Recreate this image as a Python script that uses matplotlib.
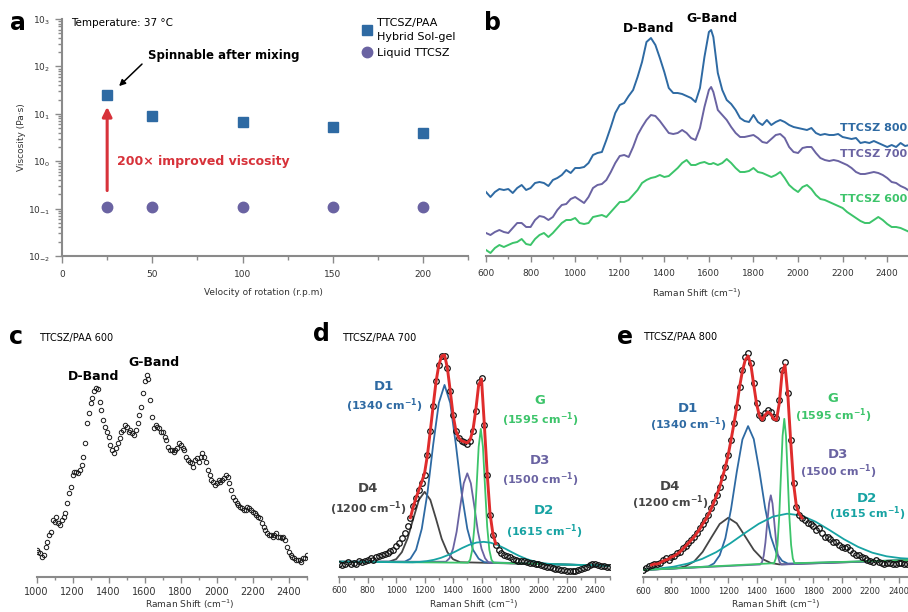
import numpy as np
import matplotlib.pyplot as plt
from matplotlib.lines import Line2D
from matplotlib.ticker import FixedLocator, LogLocator, NullFormatter

plt.rcParams['font.family'] = ['DejaVu Sans']

# ---------------- panel a: viscosity vs rotation speed
rpm = [25, 50, 100, 150, 200]
visc_hybrid = [25, 8.9, 6.7, 5.3, 3.9]
visc_liquid = [0.11, 0.11, 0.11, 0.11, 0.11]

# ---------------- panel b: Raman spectra, intensity (a.u., offset)
shift_b = list(range(600, 1601, 20)) + [1610] + list(range(1620, 2501, 20))
ttcsz_800 = [64, 59, 64, 67, 66, 67, 63, 68, 71, 66,
             68, 73, 74, 73, 70, 76, 78, 81, 86, 83,
             88, 88, 89, 93, 101, 103, 104, 116, 129, 143,
             151, 153, 160, 166, 179, 194, 214, 218, 211, 198,
             184, 168, 163, 163, 162, 160, 158, 154, 168, 199,
             224, 226,
             219, 183, 166, 156, 152, 146, 138, 135, 134, 141,
             134, 131, 136, 131, 134, 136, 134, 131, 129, 128,
             127, 126, 128, 123, 121, 122, 121, 121, 122, 119,
             118, 117, 118, 113, 114, 113, 115, 113, 111, 109,
             111, 109, 113, 110, 111]
ttcsz_700 = [23, 21, 24, 26, 24, 23, 28, 33, 33, 29,
             29, 36, 40, 39, 36, 39, 46, 51, 52, 57,
             59, 56, 53, 59, 68, 71, 72, 76, 84, 93,
             100, 101, 99, 109, 121, 129, 136, 141, 140, 135,
             129, 123, 122, 123, 126, 123, 118, 116, 128, 149,
             166, 169,
             164, 146, 141, 136, 129, 123, 119, 119, 120, 121,
             118, 114, 113, 117, 121, 122, 118, 109, 104, 103,
             108, 109, 109, 103, 98, 96, 95, 96, 95, 93,
             91, 88, 84, 82, 82, 83, 84, 83, 81, 78,
             74, 73, 70, 68, 65]
ttcsz_600 = [6, 3, 8, 11, 9, 11, 13, 14, 17, 12,
             11, 17, 21, 23, 19, 23, 28, 33, 36, 36,
             38, 33, 32, 33, 39, 40, 41, 39, 44, 49,
             54, 54, 56, 61, 66, 73, 76, 78, 79, 81,
             79, 80, 84, 88, 93, 96, 91, 91, 93, 94,
             92, 92,
             93, 91, 93, 97, 93, 88, 84, 84, 85, 88,
             84, 83, 81, 79, 81, 84, 78, 71, 67, 64,
             69, 71, 67, 61, 57, 56, 54, 52, 50, 48,
             44, 41, 38, 35, 33, 33, 36, 39, 36, 32,
             29, 29, 28, 26, 24]

# ---------------- panel c: TTCSZ/PAA 600 spectrum
shift_c = list(range(1000, 2501, 10))
spec_600 = [27, 25, 24, 20, 22, 30, 35, 42, 45, 57,
            55, 60, 54, 52, 57, 60, 64, 74, 84, 90,
            102, 105, 105, 104, 107, 112, 120, 134, 154, 164,
            174, 179, 186, 189, 188, 175, 167, 157, 150, 145,
            140, 132, 127, 124, 129, 134, 139, 145, 147, 152,
            150, 145, 147, 144, 142, 147, 154, 162, 170, 184,
            196, 202, 198, 177, 160, 149, 152, 150, 149, 145,
            145, 140, 137, 130, 127, 127, 125, 127, 129, 134,
            132, 129, 127, 120, 117, 115, 114, 110, 117, 119,
            115, 120, 124, 120, 115, 107, 102, 97, 95, 92,
            94, 97, 95, 97, 99, 102, 100, 94, 87, 80,
            77, 74, 72, 70, 69, 67, 67, 70, 69, 67,
            65, 64, 62, 60, 59, 54, 50, 47, 44, 42,
            42, 40, 42, 44, 40, 40, 39, 40, 37, 30,
            25, 22, 20, 19, 17, 17, 17, 15, 19, 19,
            22]

# ---------------- panels d / e: measured spectra and fit envelope
shift_de = list(range(600, 2501, 20))
spec_700 = [13, 12, 13, 15, 13, 14, 13, 16, 15, 16,
            17, 19, 17, 20, 21, 22, 23, 24, 26, 27,
            31, 34, 39, 44, 51, 59, 71, 79, 87, 94,
            102, 122, 146, 171, 196, 212, 221, 221, 209, 186,
            162, 146, 139, 136, 135, 133, 136, 146, 166, 195,
            199, 152, 102, 62, 42, 32, 27, 24, 22, 21,
            20, 18, 17, 16, 16, 16, 15, 14, 14, 13,
            13, 12, 11, 10, 10, 9, 8, 8, 7, 7,
            6, 6, 6, 6, 7, 8, 9, 10, 12, 13,
            13, 12, 11, 11, 10, 10]
spec_800 = [7, 9, 11, 12, 13, 13, 14, 17, 19, 17,
            20, 21, 24, 25, 29, 31, 34, 37, 40, 44,
            49, 53, 57, 62, 69, 75, 82, 90, 100, 110,
            122, 137, 154, 170, 190, 207, 220, 224, 214, 194,
            174, 162, 159, 164, 167, 165, 160, 159, 177, 207,
            215, 184, 137, 94, 70, 62, 59, 57, 54, 53,
            51, 47, 49, 44, 40, 40, 38, 35, 35, 32,
            30, 29, 30, 27, 24, 22, 22, 20, 19, 17,
            16, 15, 17, 15, 14, 13, 14, 14, 13, 13,
            14, 14, 13, 13, 13, 13]

fit_x_700 = list(range(1100, 1701, 20))
fit_700 = [59, 70, 79, 87, 95, 104, 122, 146, 171, 195,
           212, 221, 222, 209, 186, 162, 146, 139, 136, 135,
           134, 137, 147, 167, 192, 198, 152, 103, 63, 43,
           33]
fit_x_800 = list(range(660, 1721, 20))
fit_800 = [12, 13, 13, 14, 16, 17, 18, 20, 21, 23,
           25, 28, 31, 34, 37, 40, 44, 48, 53, 57,
           62, 68, 75, 82, 90, 100, 110, 122, 137, 153,
           170, 190, 206, 217, 221, 212, 192, 173, 161, 157,
           162, 165, 163, 158, 157, 174, 205, 212, 182, 136,
           94, 71, 63, 59]

# fitted peak components (baseline included)
d4_x_700 = [600, 950, 1000, 1040, 1080, 1120, 1160, 1200, 1240, 1280, 1320, 1360, 1400, 1450, 2500]
d4_700 = [15, 15, 17.6, 24.6, 38.3, 58, 77, 85, 77, 58, 38, 24.5, 17.5, 14.5, 11]
d1_x_700 = [600, 1060, 1100, 1140, 1180, 1220, 1260, 1300, 1340, 1380, 1420, 1460, 1500, 1540, 1580, 1620, 2500]
d1_700 = [15, 15, 18, 27, 48, 84, 132, 174, 192, 174, 132, 84, 48, 27, 18, 14.5, 11]
d3_x_700 = [600, 1350, 1375, 1400, 1425, 1450, 1475, 1500, 1525, 1550, 1575, 1600, 1625, 1650, 2500]
d3_700 = [15, 15, 18.5, 28, 45, 70, 93.5, 103.5, 93.5, 70, 45, 28, 18.5, 14, 11]
g_x_700 = [600, 1505, 1520, 1535, 1550, 1565, 1580, 1595, 1610, 1625, 1640, 1655, 1670, 1685, 2500]
g_700 = [15, 14, 17, 27, 50, 89, 130, 148, 130, 89, 50, 27, 17, 14, 11]
d2_x_700 = [600, 1115, 1165, 1215, 1265, 1315, 1365, 1415, 1465, 1515, 1565, 1615,
            1665, 1715, 1765, 1815, 1865, 1915, 1965, 2015, 2065, 2115, 2500]
d2_700 = [15, 14.4, 14.8, 15.6, 16.9, 18.9, 21.7, 25.1, 28.8, 32, 34.2, 34.9,
          34, 31.6, 28.2, 24.4, 20.8, 17.8, 15.5, 14, 13, 12.4, 11]

d4_x_800 = [600, 840, 900, 960, 1020, 1080, 1140, 1200, 1260, 1320, 1380, 1440, 1500, 1560, 2500]
d4_800 = [7, 8.8, 10.8, 15.5, 25.1, 39.2, 53, 59.2, 53.7, 40.5, 27.1, 18.1, 14, 12.6, 17]
d1_x_800 = [600, 1060, 1100, 1140, 1180, 1220, 1260, 1300, 1340, 1380, 1420, 1460, 1500, 1540, 1580, 1620, 2500]
d1_800 = [7, 10.5, 13.6, 21.7, 38.8, 67.9, 104.8, 137.5, 150.9, 137.9, 105.6, 69.1, 40.5, 23.8, 16.1, 13.4, 17]
d3_x_800 = [600, 1425, 1438, 1450, 1462, 1475, 1488, 1500, 1512, 1525, 1538, 1550, 1562, 1575, 2500]
d3_800 = [7, 12.5, 14.8, 21.2, 34.4, 54.2, 73.5, 81.7, 73.5, 54.2, 34.4, 21.2, 14.8, 12.5, 17]
g_x_800 = [600, 1523, 1535, 1547, 1559, 1571, 1583, 1595, 1607, 1619, 1631, 1643, 1655, 1667, 2500]
g_800 = [7, 13.8, 18.6, 32, 59.6, 100.8, 141, 158.2, 141, 100.8, 59.6, 32, 18.6, 13.8, 17]
d2_x_800 = [600, 715, 815, 915, 1015, 1115, 1215, 1315, 1415, 1515, 1615, 1715,
            1815, 1915, 2015, 2115, 2215, 2315, 2415, 2500]
d2_800 = [7.4, 8.6, 10.3, 13.4, 18, 24.8, 33.7, 43.7, 53.2, 60.4, 63.3, 61.5,
          55.3, 46.8, 37.8, 30.1, 24.3, 20.7, 18.8, 18.1]

c_blue = '#2e6aa3'
c_purple = '#6a63a2'
c_green = '#3cc46a'
c_teal = '#17a3a3'
c_gray = '#454545'
c_red = '#df2c2c'
c_axis = '#8a8a8a'
c_tick = '#333333'

W, H = 908, 612
fig = plt.figure(figsize=(W / 100, H / 100), dpi=100)


def fx(x):
    return x / W


def fy(y):
    return 1 - y / H


def axes_px(left, top, right, bottom):
    return fig.add_axes([left / W, 1 - bottom / H, (right - left) / W, (bottom - top) / H])


def raman_axis(ax, xmin, size, pad=3):
    for s in ['top', 'right', 'left']:
        ax.spines[s].set_visible(False)
    ax.spines['bottom'].set_color(c_axis)
    ax.spines['bottom'].set_linewidth(1.5)
    ax.set_yticks([])
    ax.xaxis.set_major_locator(FixedLocator(list(range(xmin, 2401, 200))))
    ax.xaxis.set_minor_locator(FixedLocator(list(range(xmin + 100, 2501, 200))))
    ax.tick_params(axis='x', which='major', length=4, width=1, color=c_axis,
                   labelsize=size, labelcolor=c_tick, pad=pad)
    ax.tick_params(axis='x', which='minor', length=2.5, width=1, color=c_axis)
    ax.patch.set_alpha(0)


# ---------------- a
ax = axes_px(62, 19, 468.4, 256)
ax.set_yscale('log')
ax.set_ylim(1e-2, 1e3)
ax.set_xlim(0, 225)
ax.plot(rpm, visc_hybrid, 's', color=c_blue, ms=6.5, ls='none')
ax.plot(rpm, visc_liquid, 'o', color=c_purple, ms=7.5, ls='none')
for s in ['top', 'right']:
    ax.spines[s].set_visible(False)
for s in ['left', 'bottom']:
    ax.spines[s].set_color(c_axis)
    ax.spines[s].set_linewidth(1.5)
ax.xaxis.set_major_locator(FixedLocator([0, 50, 100, 150, 200]))
ax.xaxis.set_minor_locator(FixedLocator([25, 75, 125, 175, 225]))
decades = [-2, -1, 0, 1, 2, 3]
ax.yaxis.set_major_locator(FixedLocator([10.0 ** e for e in decades]))
ax.set_yticklabels([r'$\mathregular{10_{%d}}$' % e for e in decades])
ax.yaxis.set_minor_locator(LogLocator(base=10, subs=np.arange(2, 10)))
ax.yaxis.set_minor_formatter(NullFormatter())
ax.tick_params(which='major', length=5, width=1, color=c_axis, labelsize=6.5,
               labelcolor=c_tick)
ax.tick_params(axis='x', which='major', pad=5)
ax.tick_params(which='minor', length=3, width=1, color=c_axis)
ax.annotate('', xy=(25, 16), xytext=(25, 0.21),
            arrowprops=dict(arrowstyle='-|>', color='#d7323a', lw=2.2, mutation_scale=14))
ax.annotate('', xy=(30.5, 35), xytext=(45.4, 123),
            arrowprops=dict(arrowstyle='-|>', color='black', lw=1.1, mutation_scale=9))
leg = ax.legend([Line2D([], [], marker='s', color=c_blue, ls='none', ms=6.5),
                 Line2D([], [], marker='o', color=c_purple, ls='none', ms=7.5)],
                ['TTCSZ/PAA\nHybrid Sol-gel', 'Liquid TTCSZ'],
                loc='upper left', bbox_to_anchor=(fx(362), fy(18)),
                bbox_transform=fig.transFigure, frameon=False, fontsize=8,
                handlelength=0.9, handletextpad=0.45, labelspacing=0.55,
                borderpad=0, borderaxespad=0)
for t in leg.get_texts():
    t.set_linespacing(1.45)

fig.text(fx(18), fy(23), 'a', fontsize=17, fontweight='bold', ha='center', va='center')
fig.text(fx(71), fy(23), 'Temperature: 37 °C', fontsize=7.5, ha='left', va='center')
fig.text(fx(148), fy(55), 'Spinnable after mixing', fontsize=8.5, fontweight='bold',
         ha='left', va='center')
fig.text(fx(117), fy(161), '200× improved viscosity', fontsize=9, fontweight='bold',
         color='#d7323a', ha='left', va='center')
fig.text(fx(22), fy(137), 'Viscosity (Pa·s)', fontsize=6.5, rotation=90,
         ha='center', va='center', color=c_tick)
fig.text(fx(263), fy(292), 'Velocity of rotation (r.p.m)', fontsize=6.5,
         ha='center', va='center', color=c_tick)

# ---------------- b
ax = axes_px(486, 0, 909.5, 256)
ax.set_xlim(600, 2500)
ax.set_ylim(0, 256)
ax.plot(shift_b, ttcsz_600, color=c_green, lw=1.4)
ax.plot(shift_b, ttcsz_700, color=c_purple, lw=1.4)
ax.plot(shift_b, ttcsz_800, color=c_blue, lw=1.4)
raman_axis(ax, 600, 6.5, pad=5)
fig.text(fx(493), fy(23), 'b', fontsize=17, fontweight='bold', ha='center', va='center')
fig.text(fx(649), fy(29), 'D-Band', fontsize=9, fontweight='bold', ha='center', va='center')
fig.text(fx(712), fy(19), 'G-Band', fontsize=9, fontweight='bold', ha='center', va='center')
fig.text(fx(840), fy(128), 'TTCSZ 800', fontsize=8, fontweight='bold', color=c_blue,
         ha='left', va='center')
fig.text(fx(840), fy(154), 'TTCSZ 700', fontsize=8, fontweight='bold', color=c_purple,
         ha='left', va='center')
fig.text(fx(840), fy(199), 'TTCSZ 600', fontsize=8, fontweight='bold', color=c_green,
         ha='left', va='center')
fig.text(fx(697), fy(293), 'Raman Shift (cm$^{-1}$)', fontsize=6.5, ha='center',
         va='center', color=c_tick)

# ---------------- c
ax = axes_px(36.7, 340, 306.7, 577)
ax.set_xlim(1000, 2500)
ax.set_ylim(0, 237)
ax.plot(shift_c, spec_600, 'o', ms=3.2, mfc='none', mec='#1a1a1a', mew=0.7, ls='none')
raman_axis(ax, 1000, 7)
fig.text(fx(16), fy(337), 'c', fontsize=17, fontweight='bold', ha='center', va='center')
fig.text(fx(39), fy(338), 'TTCSZ/PAA 600', fontsize=7, ha='left', va='center')
fig.text(fx(94), fy(377), 'D-Band', fontsize=9, fontweight='bold', ha='center', va='center')
fig.text(fx(154), fy(363), 'G-Band', fontsize=9, fontweight='bold', ha='center', va='center')
fig.text(fx(190), fy(604), 'Raman Shift (cm$^{-1}$)', fontsize=6.5, ha='center',
         va='center', color=c_tick)


# ---------------- d / e
def fit_panel(ax, spec, fit_x, fit, comps):
    ax.set_xlim(600, 2500)
    ax.set_ylim(0, 237)
    for x, y, col in comps:
        ax.plot(x, y, color=col, lw=1.3, zorder=2)
    ax.plot(shift_de, spec, 'o', ms=4.0, mfc='none', mec='#111111', mew=0.9, ls='none',
            zorder=3)
    ax.plot(fit_x, fit, color=c_red, lw=2.1, zorder=4)
    raman_axis(ax, 600, 6)


ax = axes_px(339.3, 340, 609.5, 576.7)
fit_panel(ax, spec_700, fit_x_700, fit_700,
          [(d4_x_700, d4_700, c_gray), (d1_x_700, d1_700, c_blue),
           (d3_x_700, d3_700, c_purple), (g_x_700, g_700, c_green),
           (d2_x_700, d2_700, c_teal)])

ax = axes_px(643, 340, 912.8, 577)
fit_panel(ax, spec_800, fit_x_800, fit_800,
          [(d4_x_800, d4_800, c_gray), (d1_x_800, d1_800, c_blue),
           (d3_x_800, d3_800, c_purple), (d2_x_800, d2_800, c_teal),
           (g_x_800, g_800, c_green)])

peak_labels = [
    # panel d
    (384, 386, 405.7, 'D1', '1340', c_blue),
    (540, 400, 420, 'G', '1595', c_green),
    (540, 460, 480, 'D3', '1500', c_purple),
    (368, 489, 509, 'D4', '1200', c_gray),
    (544, 511, 532, 'D2', '1615', c_teal),
    # panel e
    (688, 408, 425, 'D1', '1340', c_blue),
    (833, 399, 416, 'G', '1595', c_green),
    (838, 455, 472, 'D3', '1500', c_purple),
    (670, 487, 503, 'D4', '1200', c_gray),
    (867, 499, 514, 'D2', '1615', c_teal),
]
for x, y1, y2, name, pos, col in peak_labels:
    fig.text(fx(x), fy(y1), name, fontsize=9.5, fontweight='bold', color=col,
             ha='center', va='center')
    fig.text(fx(x), fy(y2), '(' + pos + r' cm$^{\mathbf{-1}}$)', fontsize=8,
             fontweight='bold', color=col, ha='center', va='center')

fig.text(fx(321), fy(334), 'd', fontsize=17, fontweight='bold', ha='center', va='center')
fig.text(fx(342), fy(338), 'TTCSZ/PAA 700', fontsize=7, ha='left', va='center')
fig.text(fx(474), fy(604), 'Raman Shift (cm$^{-1}$)', fontsize=6.5, ha='center',
         va='center', color=c_tick)
fig.text(fx(625), fy(337), 'e', fontsize=17, fontweight='bold', ha='center', va='center')
fig.text(fx(643), fy(337), 'TTCSZ/PAA 800', fontsize=7, ha='left', va='center')
fig.text(fx(776), fy(604), 'Raman Shift (cm$^{-1}$)', fontsize=6.5, ha='center',
         va='center', color=c_tick)

fig.savefig('out.png', dpi=100)
